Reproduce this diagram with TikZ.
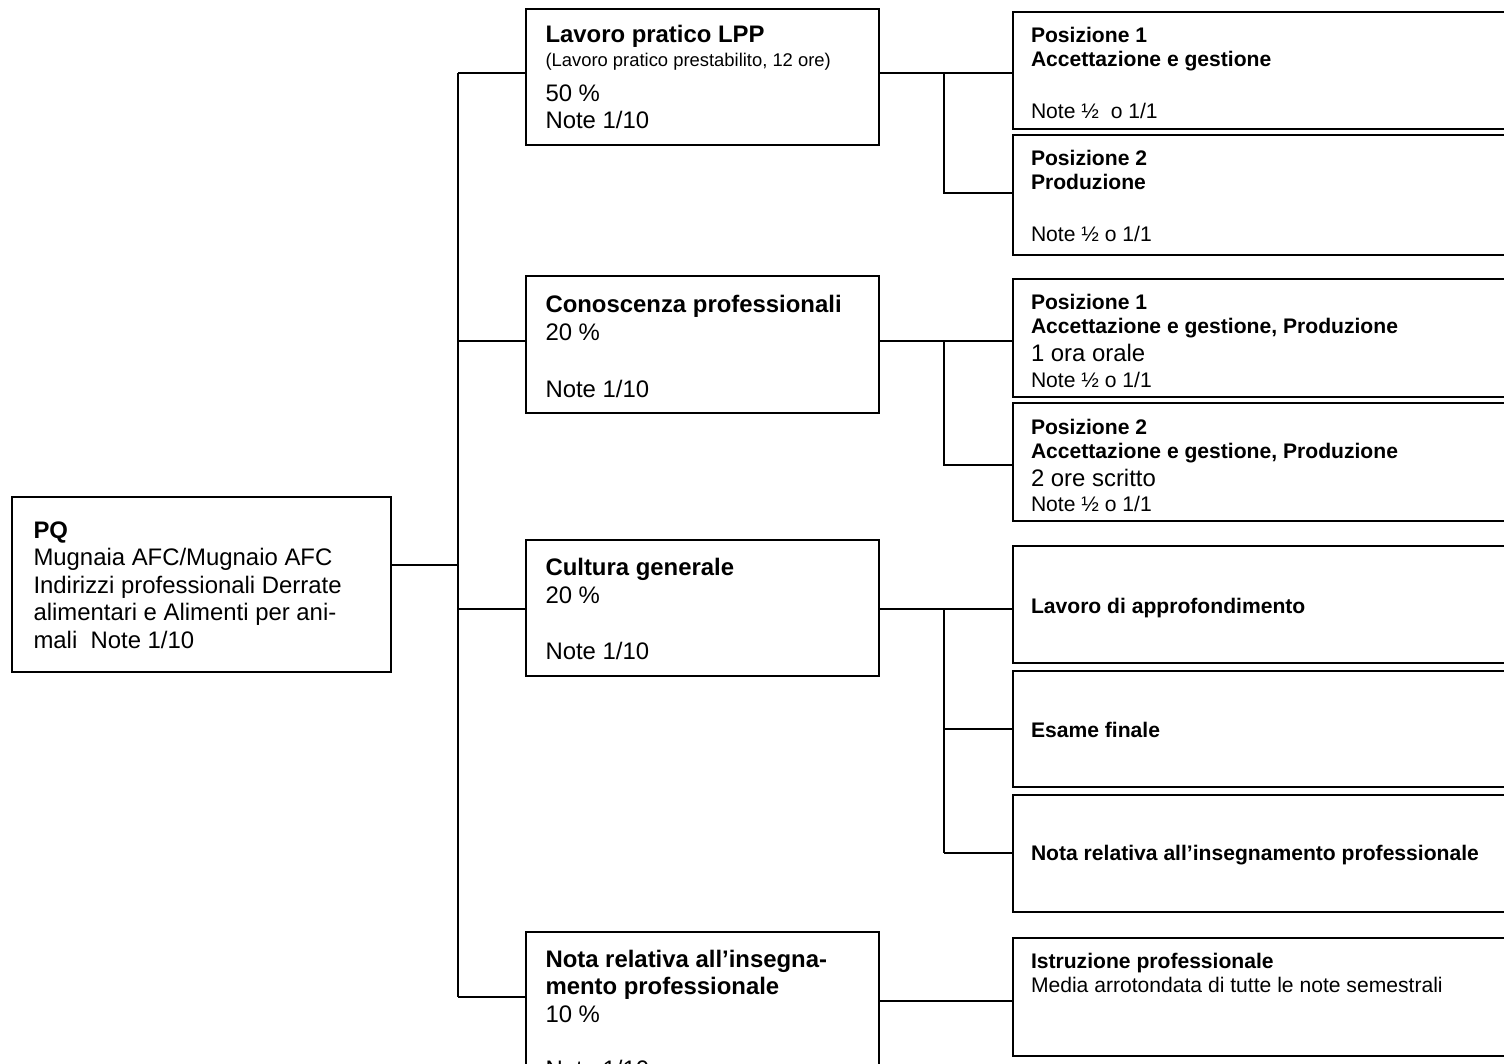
\documentclass[tikz,border=0pt]{standalone}
\usepackage{fontspec}
\setmainfont{Liberation Sans}
\newcommand\fM{\fontsize{23.9}{27.5}\selectfont}
\newcommand\fR{\fontsize{21.1}{24}\selectfont}
\newcommand\fS{\fontsize{18.4}{21}\selectfont}
\tikzset{
  box/.style={draw, line width=1.6pt, inner sep=0pt, outer sep=0pt, anchor=north west},
  conn/.style={line width=1.3pt},
  tl/.style={anchor=base west, inner sep=0pt, outer sep=0pt},
}
\begin{document}
\begin{tikzpicture}[x=1pt, y=-1pt]
\useasboundingbox (0,0) rectangle (1504,1064);
\clip (0,0) rectangle (1504,1064);
\fill[white] (0,0) rectangle (1504,1064);

% root
\node[box, minimum width=379pt, minimum height=175pt] (root) at (12,497) {};
\node[tl, font=\fM\bfseries] (r1) at (33.5,538) {PQ};
\node[tl, font=\fM] (r2) at (33.5,565.5) {Mugnaia AFC/Mugnaio AFC};
\node[tl, font=\fM] (r3) at (33.5,593) {Indirizzi professionali Derrate};
\node[tl, font=\fM] (r4) at (33.5,620.5) {alimentari e Alimenti per ani-};
\node[tl, font=\fM] (r5) at (33.5,648) {mali\ \ Note 1/10};

% level 2
\node[box, minimum width=353pt, minimum height=136pt] (l1) at (526,9) {};
\node[tl, font=\fM\bfseries] (l1a) at (545.5,43) {Lavoro pratico LPP};
\node[tl, font=\fS] (l1b) at (545.5,67) {(Lavoro pratico prestabilito, 12 ore)};
\node[tl, font=\fM] (l1c) at (545.5,102) {50 \%};
\node[tl, font=\fM] (l1d) at (545.5,129) {Note 1/10};

\node[box, minimum width=353pt, minimum height=137pt] (l2) at (526,276) {};
\node[tl, font=\fM\bfseries] (l2a) at (545.5,313) {Conoscenza professionali};
\node[tl, font=\fM] (l2b) at (545.5,341) {20 \%};
\node[tl, font=\fM] (l2c) at (545.5,397) {Note 1/10};

\node[box, minimum width=353pt, minimum height=136pt] (l3) at (526,540) {};
\node[tl, font=\fM\bfseries] (l3a) at (545.5,575) {Cultura generale};
\node[tl, font=\fM] (l3b) at (545.5,603) {20 \%};
\node[tl, font=\fM] (l3c) at (545.5,659) {Note 1/10};

\node[box, minimum width=353pt, minimum height=170pt] (l4) at (526,932) {};
\node[tl, font=\fM\bfseries] (l4a) at (545.5,967) {Nota relativa all’insegna-};
\node[tl, font=\fM\bfseries] (l4b) at (545.5,994.5) {mento professionale};
\node[tl, font=\fM] (l4c) at (545.5,1022) {10 \%};
\node[tl, font=\fM] (l4d) at (545.5,1077) {Note 1/10};

% right boxes
\node[box, minimum width=520pt, minimum height=117pt] (p11) at (1013,12) {};
\node[tl, font=\fR\bfseries] (p11a) at (1031,43) {Posizione 1};
\node[tl, font=\fR\bfseries] (p11b) at (1031,67) {Accettazione e gestione};
\node[tl, font=\fR] (p11c) at (1031,119) {Note ½\ \ o 1/1};

\node[box, minimum width=520pt, minimum height=120pt] (p12) at (1013,135) {};
\node[tl, font=\fR\bfseries] (p12a) at (1031,166) {Posizione 2};
\node[tl, font=\fR\bfseries] (p12b) at (1031,190) {Produzione};
\node[tl, font=\fR] (p12c) at (1031,242) {Note ½ o 1/1};

\node[box, minimum width=520pt, minimum height=118pt] (p21) at (1013,279) {};
\node[tl, font=\fR\bfseries] (p21a) at (1031,310) {Posizione 1};
\node[tl, font=\fR\bfseries] (p21b) at (1031,334) {Accettazione e gestione, Produzione};
\node[tl, font=\fM] (p21c) at (1031,362) {1 ora orale};
\node[tl, font=\fR] (p21d) at (1031,387) {Note ½ o 1/1};

\node[box, minimum width=520pt, minimum height=118pt] (p22) at (1013,403) {};
\node[tl, font=\fR\bfseries] (p22a) at (1031,434) {Posizione 2};
\node[tl, font=\fR\bfseries] (p22b) at (1031,458) {Accettazione e gestione, Produzione};
\node[tl, font=\fM] (p22c) at (1031,486) {2 ore scritto};
\node[tl, font=\fR] (p22d) at (1031,511) {Note ½ o 1/1};

\node[box, minimum width=520pt, minimum height=117pt] (p31) at (1013,546) {};
\node[tl, font=\fR\bfseries] (p31a) at (1031,613) {Lavoro di approfondimento};

\node[box, minimum width=520pt, minimum height=116pt] (p32) at (1013,671) {};
\node[tl, font=\fR\bfseries] (p32a) at (1031,737) {Esame finale};

\node[box, minimum width=520pt, minimum height=117pt] (p33) at (1013,795) {};
\node[tl, font=\fR\bfseries] (p33a) at (1031,860) {Nota relativa all’insegnamento professionale};

\node[box, minimum width=520pt, minimum height=118pt] (p41) at (1013,938) {};
\node[tl, font=\fR\bfseries] (p41a) at (1031,968) {Istruzione professionale};
\node[tl, font=\fR] (p41b) at (1031,992) {Media arrotondata di tutte le note semestrali};

% junction coordinates
\coordinate (jroot) at (458,565);
\coordinate (b1) at (458,73);
\coordinate (b2) at (458,341);
\coordinate (b3) at (458,609);
\coordinate (b4) at (458,997);
\coordinate (q1) at (944,73);
\coordinate (q1b) at (944,193);
\coordinate (q2) at (944,341);
\coordinate (q2b) at (944,465);
\coordinate (q3) at (944,609);
\coordinate (q3b) at (944,729);
\coordinate (q3c) at (944,853);
\coordinate (q4) at (944,1001);

% connectors
\draw[conn] (root.east |- jroot) -- (jroot);
\draw[conn] (b1) -- (b4);
\draw[conn] (b1) -- (l1.west |- b1);
\draw[conn] (b2) -- (l2.west |- b2);
\draw[conn] (b3) -- (l3.west |- b3);
\draw[conn] (b4) -- (l4.west |- b4);

\draw[conn] (l1.east |- q1) -- (p11.west |- q1);
\draw[conn] (q1) -- (q1b) -- (p12.west |- q1b);
\draw[conn] (l2.east |- q2) -- (p21.west |- q2);
\draw[conn] (q2) -- (q2b) -- (p22.west |- q2b);
\draw[conn] (l3.east |- q3) -- (p31.west |- q3);
\draw[conn] (q3) -- (q3c);
\draw[conn] (q3b) -- (p32.west |- q3b);
\draw[conn] (q3c) -- (p33.west |- q3c);
\draw[conn] (l4.east |- q4) -- (p41.west |- q4);
\end{tikzpicture}
\end{document}
